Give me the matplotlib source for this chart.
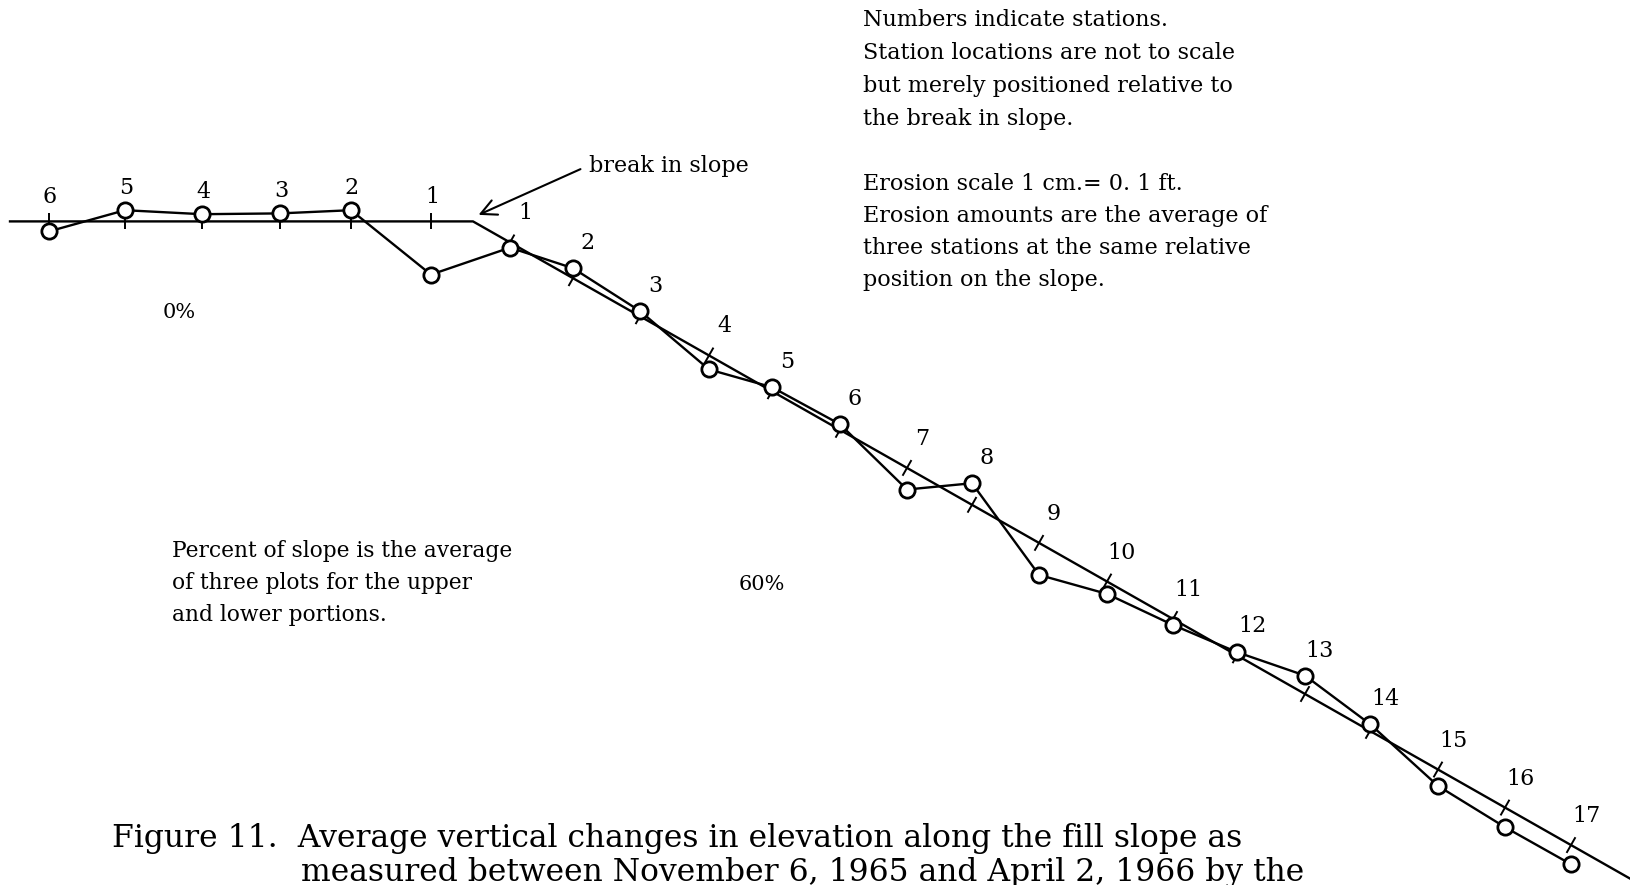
import numpy as np
import matplotlib.pyplot as plt
from matplotlib.collections import LineCollection

# stations on the flat upper portion (left to right) and on the 60% slope
upper_station = [6, 5, 4, 3, 2, 1]
upper_pos = [49, 125, 202, 280, 351, 431]
upper_change = [-0.025, 0.028, 0.018, 0.020, 0.028, -0.133]   # ft

lower_station = list(range(1, 18))
lower_pos = [510, 573, 640, 709, 772, 840, 907, 972, 1039, 1107, 1173,
             1237, 1305, 1370, 1438, 1505, 1571]
lower_change = [-0.013, 0.025, 0.013, -0.035, 0.010, 0.014, -0.054, 0.054,
                -0.080, -0.031, -0.015, 0.008, 0.046, 0.017, -0.041, -0.049, -0.048]  # ft

note_top = ['Numbers indicate stations.', 'Station locations are not to scale',
            'but merely positioned relative to', 'the break in slope.']
note_scale = ['Erosion scale 1 cm.= 0. 1 ft.', 'Erosion amounts are the average of',
              'three stations at the same relative', 'position on the slope.']
note_pct = ['Percent of slope is the average', 'of three plots for the upper',
            'and lower portions.']

# drawing geometry
W, H = 1630, 885
BREAK_X, BASE_Y, SLOPE = 473, 221.4, 0.568
PX_PER_FT = 400          # erosion scale 1 cm = 0.1 ft


def ground(x):
    x = np.asarray(x, dtype=float)
    return np.where(x < BREAK_X, BASE_Y, BASE_Y + SLOPE * (x - BREAK_X))


def block(lines, x, y0, step, size=16):
    for i, t in enumerate(lines):
        ax.text(x, y0 + i * step, t, ha='left', va='center', fontsize=size)


plt.rcParams['font.family'] = ['DejaVu Serif']
fig = plt.figure(figsize=(16.3, 8.85), dpi=100)
ax = fig.add_axes([0, 0, 1, 1])
ax.set_xlim(0, W)
ax.set_ylim(H, 0)
ax.axis('off')

# ground profile with the break in slope
gx = np.array([10, BREAK_X, W])
ax.plot(gx, ground(gx), color='black', lw=1.7, zorder=1)

# station ticks
ux = np.array(upper_pos, dtype=float)
uy = ground(ux)
segs = [[(x, y - 8), (x, y + 8)] for x, y in zip(ux, uy)]
lx = np.array(lower_pos, dtype=float)
ly = ground(lx)
n = np.array([SLOPE, -1.0]) / np.hypot(SLOPE, 1.0)
segs += [[(x - 9 * n[0], y - 9 * n[1]), (x + 9 * n[0], y + 9 * n[1])] for x, y in zip(lx, ly)]
ax.add_collection(LineCollection(segs, colors='black', linewidths=1.4, zorder=1))

# measured surface after erosion / deposition
cx = np.concatenate([ux, lx])
cy = np.concatenate([uy - np.array(upper_change) * PX_PER_FT,
                     ly - np.array(lower_change) * PX_PER_FT])
ax.plot(cx, cy, color='black', lw=1.7, marker='o', ms=11, mfc='white',
        mec='black', mew=2, zorder=3)

# station numbers
cuy = cy[:len(ux)]
for s, x, y, c in zip(upper_station, ux, uy, cuy):
    ax.text(x + 1, min(y - 2, c) - 22, str(s), ha='center', va='center', fontsize=16)
cly = cy[len(ux):]
for s, x, y, c in zip(lower_station, lx, ly, cly):
    ax.text(x + 15, min(y - 29, c - 25), str(s), ha='center', va='center', fontsize=16)

# annotations
ax.annotate('', xy=(476, 216), xytext=(583, 168),
            arrowprops=dict(arrowstyle='->', lw=1.5, mutation_scale=28, color='black'))
ax.text(589, 166, 'break in slope', ha='left', va='center', fontsize=16)
ax.text(179, 312, '0%', ha='center', va='center', fontsize=15)
ax.text(762, 584, '60%', ha='center', va='center', fontsize=15)

block(note_top, 863, 20, 33)
block(note_scale, 863, 184, 32)
block(note_pct, 172, 551, 32, size=15.7)

ax.text(112, 838, 'Figure 11.  Average vertical changes in elevation along the fill slope as',
        ha='left', va='center', fontsize=22.6)
ax.text(301, 872, 'measured between November 6, 1965 and April 2, 1966 by the',
        ha='left', va='center', fontsize=22.6)

fig.savefig('out.png', dpi=100)
